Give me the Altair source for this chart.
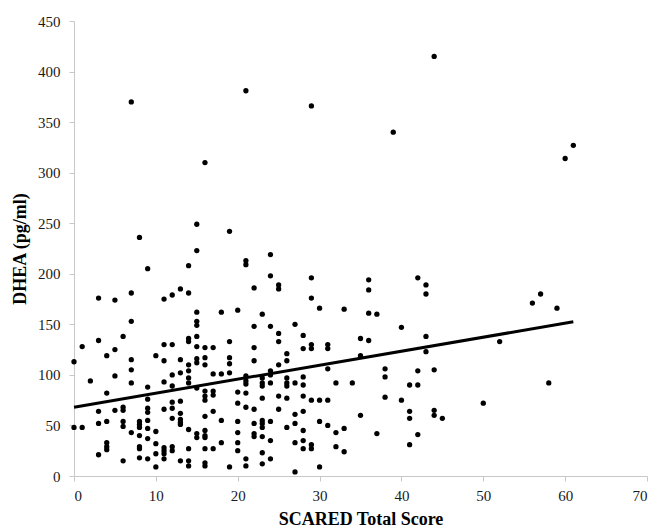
import altair as alt
import pandas as pd

# SCARED total score (x) and DHEA pg/ml (y)
scared = [
    15, 8, 15, 9, 14, 3, 5, 7, 11, 12, 13, 14, 15, 7, 15, 15,
    19, 24, 21, 21, 24, 29, 22, 25, 25, 29, 30, 18, 20, 23, 22, 24, 27,
    36, 36, 42, 43, 43, 33, 36, 37, 40,
    57, 56, 59,
    6, 1, 3, 5, 4, 0, 11, 12, 14, 14, 15, 15, 10, 11, 7, 7, 7, 13, 14, 14, 15, 15,
    13, 12, 5, 2, 11, 14, 14, 12, 15, 9, 4, 9, 12, 12, 13, 9, 9, 11, 6, 6, 5, 3,
    13, 12, 13, 13, 13, 0, 1, 3, 4, 6, 6, 8, 8, 8, 9, 9, 14, 15, 15, 7, 8, 10, 9,
    4, 4, 4, 3, 8, 8, 10, 11, 11, 11, 11, 12, 12, 10, 14, 14, 14, 13, 9, 8, 6, 10,
    25, 25, 28, 16, 17, 19, 22, 28, 29, 29, 31, 31, 16, 16, 19, 19, 22, 26, 26, 25,
    17, 18, 19, 24, 24, 31, 21, 21, 21, 23, 23, 24, 26, 26, 26, 28, 28, 27, 32,
    16, 16, 16, 17, 17, 20, 21, 23, 23, 25, 26, 28, 29, 30, 31, 20, 21, 22, 25, 17,
    28, 27, 16, 18, 23, 23, 24, 20, 22, 27, 30, 31, 26, 23, 16, 16, 16, 20, 22, 22,
    23, 28, 32, 18, 20, 24, 27, 28, 29, 29, 32, 16, 17, 20, 28, 23, 21, 24, 16, 16,
    19, 21, 23, 30, 27,
    35, 36, 43, 35, 43, 38, 38, 42, 44, 34, 41, 42, 38, 40, 41, 41, 44, 44, 45, 35,
    33, 37, 42, 41, 33,
    52, 58, 50,
    7, 16, 21, 29, 39, 44, 60, 61,
]
dhea = [
    249, 236, 223, 205, 208, 176, 174, 181, 175, 179, 185, 181, 162, 153, 153, 149,
    242, 219, 213, 209, 198, 196, 186, 189, 185, 176, 166, 162, 164, 160, 148, 148, 150,
    194, 184, 196, 189, 180, 165, 161, 160, 147,
    180, 171, 166,
    138, 128, 134, 125, 119, 113, 130, 130, 136, 133, 138, 128, 119, 114, 115, 105, 92, 115, 110, 104, 116, 112,
    102, 100, 99, 94, 93, 97, 92, 89, 87, 88, 82, 76, 73, 67, 74, 67, 63, 66, 68, 65, 65, 64,
    62, 57, 56, 53, 51, 48, 48, 52, 54, 54, 49, 54, 51, 48, 55, 47, 46, 42, 38, 43, 40, 44, 37,
    33, 29, 26, 21, 29, 27, 32, 28, 25, 22, 17, 29, 25, 22, 27, 15, 10, 15, 17, 18, 15, 9,
    141, 133, 139, 127, 127, 133, 127, 126, 130, 126, 130, 126, 117, 110, 117, 111, 114, 121, 114, 110,
    101, 101, 102, 104, 100, 106, 99, 94, 91, 97, 92, 92, 97, 92, 89, 98, 90, 92, 92,
    84, 79, 75, 84, 80, 83, 82, 89, 77, 79, 77, 79, 75, 75, 75, 72, 68, 66, 66, 64,
    64, 61, 59, 55, 55, 52, 54, 54, 52, 52, 54, 50, 48, 48, 45, 40, 38, 43, 42, 39,
    39, 45, 43, 33, 33, 35, 33, 35, 31, 27, 29, 27, 27, 25, 27, 23, 17, 17, 13, 10,
    9, 10, 12, 9, 4,
    136, 134, 138, 119, 123, 106, 98, 104, 105, 92, 90, 90, 78, 75, 64, 57, 65, 60, 57, 60,
    47, 42, 41, 31, 24,
    133, 92, 72,
    370, 310, 381, 366, 340, 415, 314, 327,
]

# linear trend line, end points
trend_x = [0, 61]
trend_y = [68, 152.5]

x_ticks = [0, 10, 20, 30, 40, 50, 60, 70]
y_ticks = [0, 50, 100, 150, 200, 250, 300, 350, 400, 450]

df = pd.DataFrame({"scared": scared, "dhea": dhea})
tdf = pd.DataFrame({"scared": trend_x, "dhea": trend_y})

xs = alt.Scale(domain=[0, 70], nice=False, zero=False)
ys = alt.Scale(domain=[0, 450], nice=False, zero=False)

points = alt.Chart(df).mark_circle(size=28, color="black", opacity=1).encode(
    x=alt.X("scared:Q", scale=xs,
            axis=alt.Axis(title="SCARED Total Score", values=x_ticks, grid=False,
                          labelPadding=7, titlePadding=7)),
    y=alt.Y("dhea:Q", scale=ys,
            axis=alt.Axis(title="DHEA (pg/ml)", values=y_ticks, grid=False,
                          labelPadding=9, titlePadding=8)),
)

line = alt.Chart(tdf).mark_line(color="black", strokeWidth=3).encode(
    x=alt.X("scared:Q", scale=xs),
    y=alt.Y("dhea:Q", scale=ys),
)

chart = (points + line).properties(
    width=573,
    height=455,
    padding={"left": 66, "top": 13, "right": 1, "bottom": 60},
    autosize=alt.AutoSizeParams(type="none"),
).configure_view(stroke=None).configure_axis(
    domainColor="#c8c8c8",
    tickColor="#c8c8c8",
    tickSize=5,
    labelFont="Liberation Serif",
    labelFontSize=15,
    labelColor="#1a1a1a",
    titleFont="Liberation Serif",
    titleFontSize=18,
    titleFontWeight="bold",
    titleColor="black",
)

chart.save("out.html", embed_options={"renderer": "svg", "actions": False})
